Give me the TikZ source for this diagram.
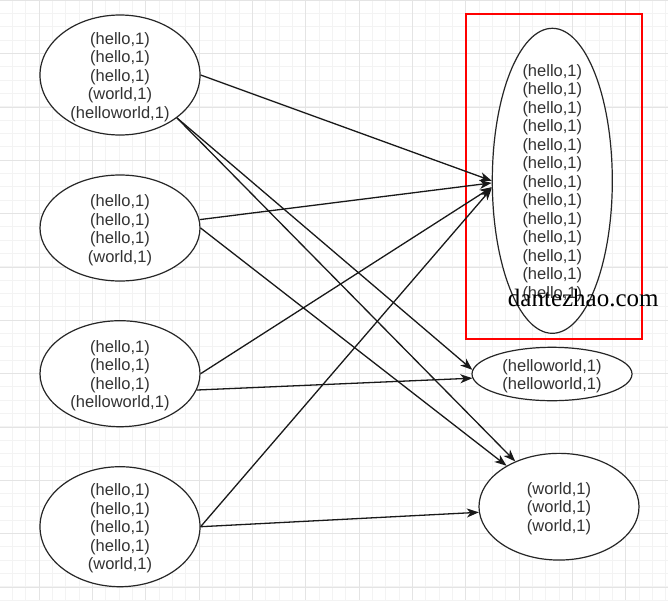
\documentclass[tikz,border=0pt]{standalone}
\usepackage{fontspec}
\setmainfont{Liberation Sans}
\newfontfamily\markfont{Liberation Serif}
\usetikzlibrary{shapes.geometric, arrows.meta}
\definecolor{textgray}{HTML}{333333}
\definecolor{minorline}{HTML}{F3F3F3}
\definecolor{majorline}{HTML}{E4E4E4}

\begin{document}
\begin{tikzpicture}[x = 1pt, y = -1pt,
    every node/.style = { align = center },
    bag/.style = { draw = black!85, line width = 1.2pt, fill = white, shape = ellipse, inner sep = 0pt },
    pairs/.style = { text = textgray, yshift = -2pt, font = \fontsize{16.5}{18.5}\selectfont },
    link/.style = { draw = black!90, line width = 1.3pt, -{Stealth[length = 12pt, width = 9pt, inset = 3.5pt]} }]

    \useasboundingbox (0,0) rectangle (668,600);
    \fill[white] (0,0) rectangle (668,600);
    % grid
    \foreach \i in {0,...,50} {
      \draw[minorline, line width = 0.8pt] ({-0.8+13.333*\i},0) -- ({-0.8+13.333*\i},600);
      \draw[minorline, line width = 0.8pt] (0,{13.333*\i}) -- (668,{13.333*\i});
    }
    \foreach \i in {0,...,12} {
      \draw[majorline, line width = 0.8pt] ({39.2+53.333*(\i-1)},0) -- ({39.2+53.333*(\i-1)},600);
      \draw[majorline, line width = 0.8pt] (0,{0.4+53.333*\i}) -- (668,{0.4+53.333*\i});
    }

    % map side
    \node[bag, minimum width = 160pt, minimum height = 120pt] (e1) at (120,75) {};
    \node[pairs] (e1t) at (e1) { (hello,1) \\ (hello,1) \\ (hello,1) \\ (world,1) \\ (helloworld,1) };
    \node[bag, minimum width = 160pt, minimum height = 106pt] (e2) at (120,228) {};
    \node[pairs] (e2t) at (e2) { (hello,1) \\ (hello,1) \\ (hello,1) \\ (world,1) };
    \node[bag, minimum width = 160pt, minimum height = 106pt] (e3) at (120,373.7) {};
    \node[pairs] (e3t) at (e3) { (hello,1) \\ (hello,1) \\ (hello,1) \\ (helloworld,1) };
    \node[bag, minimum width = 160pt, minimum height = 120pt] (e4) at (120,526.7) {};
    \node[pairs] (e4t) at (e4) { (hello,1) \\ (hello,1) \\ (hello,1) \\ (hello,1) \\ (world,1) };

    % reduce side
    \draw[red, line width = 2pt] (466,14) rectangle (642,339.3);
    \node[bag, minimum width = 120pt, minimum height = 305pt] (big) at (552.3,180.8) {};
    \node[pairs] (bigt) at (big) { (hello,1) \\ (hello,1) \\ (hello,1) \\ (hello,1) \\ (hello,1) \\ (hello,1) \\ (hello,1) \\ (hello,1) \\ (hello,1) \\ (hello,1) \\ (hello,1) \\ (hello,1) \\ (hello,1) };
    \node[bag, minimum width = 160pt, minimum height = 53.4pt] (hw) at (552,374) {};
    \node[pairs] (hwt) at (hw) { (helloworld,1) \\ (helloworld,1) };
    \node[bag, minimum width = 160pt, minimum height = 106.7pt] (wd) at (559,506.7) {};
    \node[pairs] (wdt) at (wd) { (world,1) \\ (world,1) \\ (world,1) };

    \draw[link] (e1.east) -- (big.west);
    \draw[link] (e1.-37) -- (hw.177);
    \draw[link] (e1.-37) -- (wd.134);
    \draw[link] (e2.6) -- (big.182);
    \draw[link] (e2.east) -- (wd.142);
    \draw[link] (e3.east) -- (big.186);
    \draw[link] (e3.-12) -- (hw.183);
    \draw[link] (e4.east) -- (big.187);
    \draw[link] (e4.east) -- (wd.184);

    \node[font = \markfont\fontsize{25}{25}\selectfont, anchor = base] (mark) at (583.3,306.5) {dantezhao.com};
\end{tikzpicture}
\end{document}
